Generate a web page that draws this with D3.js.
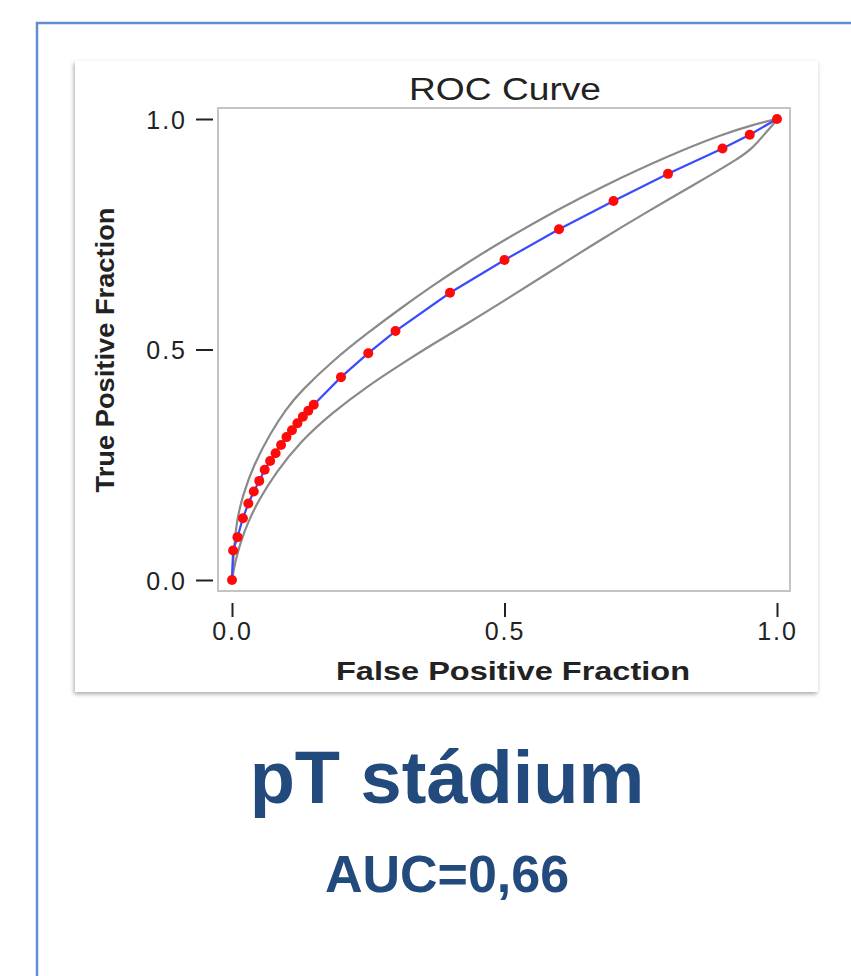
<!DOCTYPE html>
<html>
<head>
<meta charset="utf-8">
<script src="https://cdn.jsdelivr.net/npm/d3@7"></script>
<style>
  html, body { margin: 0; padding: 0; background: #fff; }
  svg { display: block; }
</style>
</head>
<body>
<svg width="851" height="976"></svg>
<script>
// ROC points (false positive fraction / true positive fraction)
var fpf = [0, 0.002, 0.01, 0.02, 0.03, 0.04, 0.05, 0.06, 0.07, 0.08, 0.09, 0.10, 0.11, 0.12, 0.13, 0.14, 0.15,
           0.2, 0.25, 0.3, 0.4, 0.5, 0.6, 0.7, 0.8, 0.9, 0.95, 1.0];
var tpf = [0, 0.064, 0.093, 0.134, 0.166, 0.192, 0.215, 0.239, 0.258, 0.275, 0.293, 0.310, 0.325, 0.340, 0.354, 0.367, 0.380,
           0.440, 0.492, 0.540, 0.623, 0.694, 0.761, 0.822, 0.881, 0.936, 0.966, 1.0];

// confidence band, upper edge
var upperX = [0, 0.005, 0.01, 0.02, 0.04, 0.07, 0.1, 0.125, 0.186, 0.25, 0.31, 0.37, 0.43, 0.5, 0.6, 0.675, 0.8, 0.9, 0.963, 1.0];
var upperY = [0, 0.09, 0.135, 0.185, 0.250, 0.318, 0.372, 0.408, 0.477, 0.537, 0.590, 0.640, 0.687, 0.738, 0.805, 0.851, 0.920, 0.967, 0.990, 1.0];

// confidence band, lower edge
var lowerX = [0, 0.005, 0.015, 0.03, 0.05, 0.08, 0.125, 0.185, 0.247, 0.31, 0.369, 0.43, 0.492, 0.577, 0.675, 0.755, 0.859, 0.932, 0.954, 0.975, 1.0];
var lowerY = [0, 0.035, 0.08, 0.128, 0.175, 0.232, 0.300, 0.364, 0.419, 0.468, 0.512, 0.555, 0.600, 0.664, 0.737, 0.794, 0.865, 0.916, 0.936, 0.964, 0.998];

var tickVals = [0, 0.5, 1.0];
var chartTitle = "ROC Curve",
    xTitle = "False Positive Fraction",
    yTitle = "True Positive Fraction",
    heading = "pT stádium",
    aucText = "AUC=0,66";

var svg = d3.select("svg");

// blue outer frame (only left and top visible)
svg.append("path")
    .attr("d", "M37,976V23H851")
    .attr("fill", "none")
    .attr("stroke", "#5e8fd3")
    .attr("stroke-width", 2.5);

// shadow for the chart card
var defs = svg.append("defs");
var f = defs.append("filter").attr("id", "shadow")
    .attr("x", "-5%").attr("y", "-5%").attr("width", "110%").attr("height", "110%");
f.append("feDropShadow")
    .attr("dx", -1).attr("dy", 2)
    .attr("stdDeviation", 2)
    .attr("flood-color", "#000").attr("flood-opacity", 0.35);

svg.append("rect")
    .attr("x", 75).attr("y", 61)
    .attr("width", 743).attr("height", 631)
    .attr("fill", "#fff")
    .attr("filter", "url(#shadow)");

var x = d3.scaleLinear().domain([0, 1]).range([232, 777]);
var y = d3.scaleLinear().domain([0, 1]).range([580, 119]);

// plot frame
svg.append("rect")
    .attr("x", 218).attr("y", 108)
    .attr("width", 572).attr("height", 483)
    .attr("fill", "#fff")
    .attr("stroke", "#c4c4c4")
    .attr("stroke-width", 2);

// axes
var yAxis = svg.append("g")
    .attr("transform", "translate(213,0)")
    .call(d3.axisLeft(y).tickValues(tickVals).tickSize(17).tickPadding(9).tickFormat(d3.format(".1f")));
var xAxis = svg.append("g")
    .attr("transform", "translate(0,603)")
    .call(d3.axisBottom(x).tickValues(tickVals).tickSize(14).tickPadding(5).tickFormat(d3.format(".1f")));

[yAxis, xAxis].forEach(function(a) {
  a.select(".domain").remove();
  a.selectAll(".tick line").attr("stroke", "#222").attr("stroke-width", 2);
  a.selectAll(".tick text")
      .attr("fill", "#222")
      .style("font-family", "'Liberation Sans', Arial, sans-serif")
      .style("font-size", "25px")
      .style("letter-spacing", "2px");
});
yAxis.selectAll(".tick text").attr("dy", "0.36em");

var upper = upperX.map(function(v, i) { return [v, upperY[i]]; });
var lower = lowerX.map(function(v, i) { return [v, lowerY[i]]; });
var roc = fpf.map(function(v, i) { return [v, tpf[i]]; });

// band edges, smoothed
var bandLine = d3.line()
    .x(function(d) { return x(d[0]); })
    .y(function(d) { return y(d[1]); })
    .curve(d3.curveBasis);

[upper, lower].forEach(function(b) {
  svg.append("path")
      .datum(b)
      .attr("d", bandLine)
      .attr("fill", "none")
      .attr("stroke", "#8a8a8a")
      .attr("stroke-width", 2.2);
});

svg.append("path")
    .datum(roc)
    .attr("d", d3.line().x(function(d) { return x(d[0]); }).y(function(d) { return y(d[1]); }))
    .attr("fill", "none")
    .attr("stroke", "#3a4bff")
    .attr("stroke-width", 2.2);

svg.selectAll("circle.pt")
    .data(roc)
  .enter().append("circle")
    .attr("class", "pt")
    .attr("cx", function(d) { return x(d[0]); })
    .attr("cy", function(d) { return y(d[1]); })
    .attr("r", 5)
    .attr("fill", "#ff0a0a");

// titles
svg.append("text")
    .attr("x", 505).attr("y", 100)
    .attr("text-anchor", "middle")
    .attr("textLength", 192).attr("lengthAdjust", "spacingAndGlyphs")
    .style("font-family", "'Liberation Sans', Arial, sans-serif")
    .style("font-size", "31px")
    .attr("fill", "#222")
    .text(chartTitle);

svg.append("text")
    .attr("x", 513).attr("y", 680)
    .attr("text-anchor", "middle")
    .attr("textLength", 354).attr("lengthAdjust", "spacingAndGlyphs")
    .style("font-family", "'Liberation Sans', Arial, sans-serif")
    .style("font-size", "26px")
    .style("font-weight", "bold")
    .attr("fill", "#222")
    .text(xTitle);

svg.append("text")
    .attr("transform", "translate(114,350) rotate(-90)")
    .attr("text-anchor", "middle")
    .attr("textLength", 285).attr("lengthAdjust", "spacingAndGlyphs")
    .style("font-family", "'Liberation Sans', Arial, sans-serif")
    .style("font-size", "25px")
    .style("font-weight", "bold")
    .attr("fill", "#222")
    .text(yTitle);

svg.append("text")
    .attr("x", 447).attr("y", 803)
    .attr("text-anchor", "middle")
    .style("font-family", "'Liberation Sans', Arial, sans-serif")
    .style("font-size", "74px")
    .style("font-weight", "bold")
    .attr("fill", "#234a7c")
    .text(heading);

svg.append("text")
    .attr("x", 447).attr("y", 892)
    .attr("text-anchor", "middle")
    .style("font-family", "'Liberation Sans', Arial, sans-serif")
    .style("font-size", "52px")
    .style("font-weight", "bold")
    .attr("fill", "#234a7c")
    .text(aucText);
</script>
</body>
</html>
